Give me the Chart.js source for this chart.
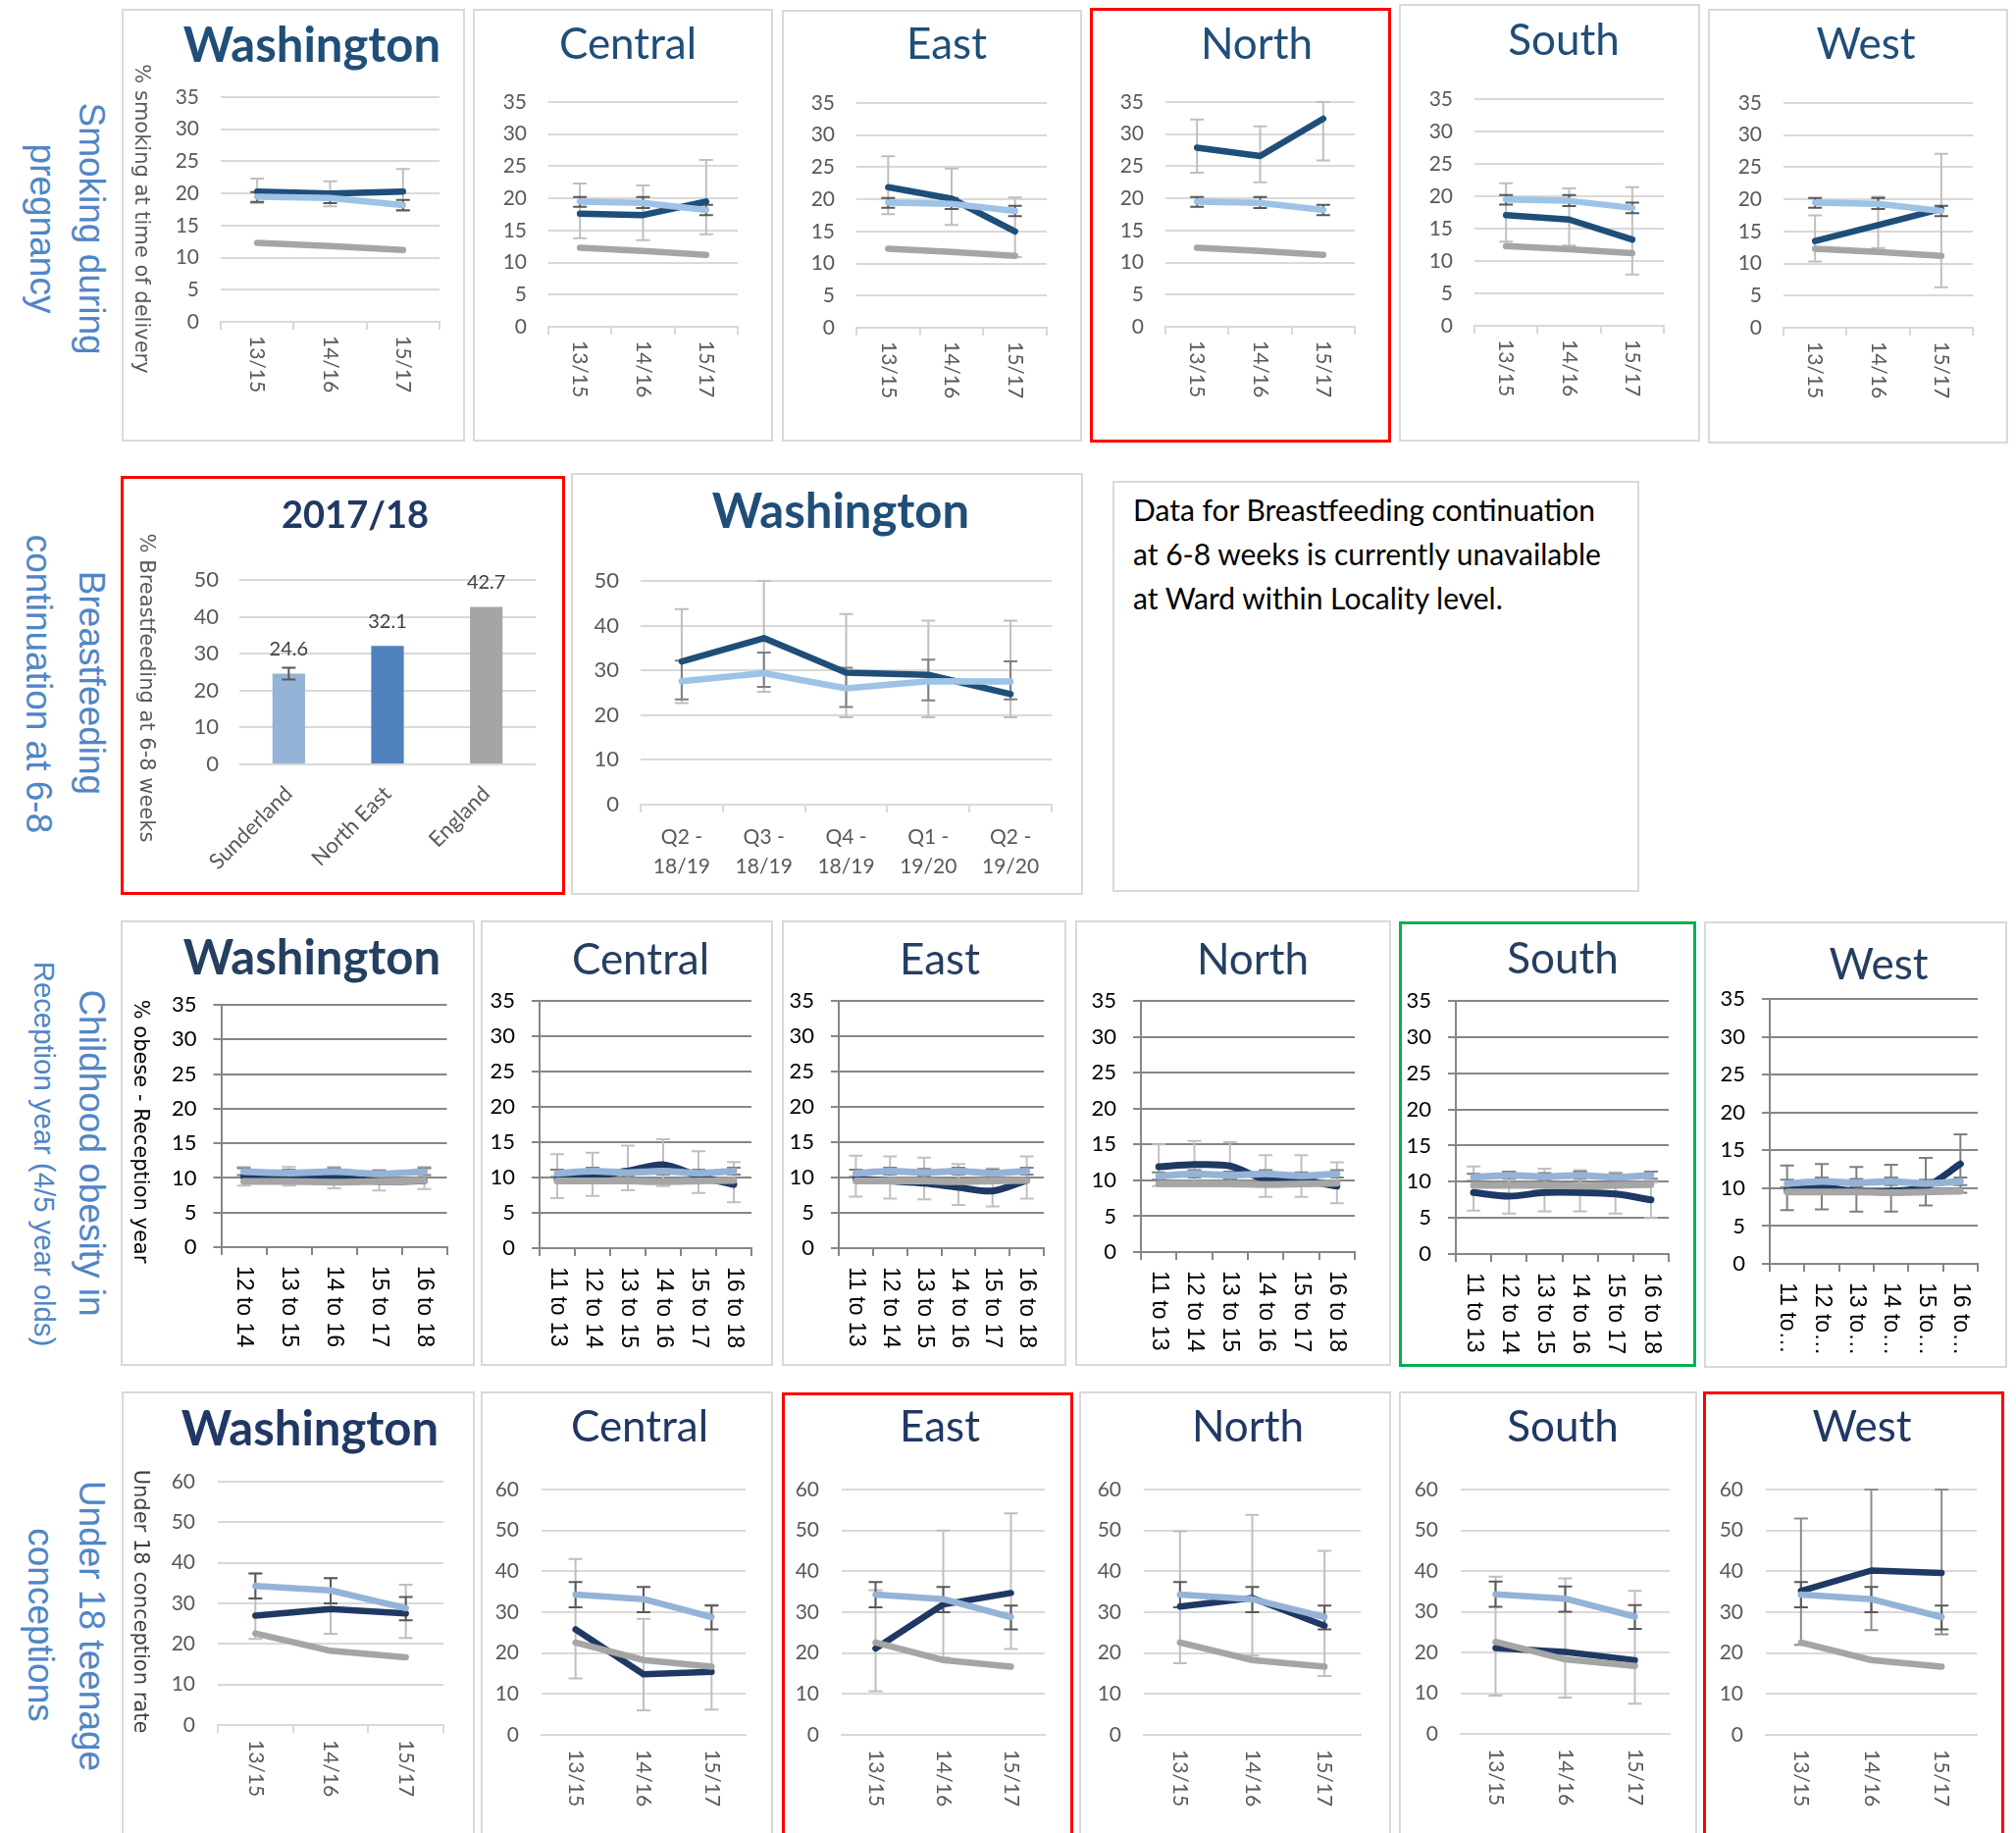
<!DOCTYPE html>
<html>
<head>
<meta charset="utf-8">
<title>Washington locality indicators</title>
<script src="https://cdn.jsdelivr.net/npm/chart.js@4.4.1/dist/chart.umd.min.js"></script>
<style>
  html, body { margin: 0; padding: 0; background: #fff; }
  body { position: relative; width: 2055px; height: 1868px; overflow: hidden; font-family: Lato, sans-serif; }
  .box { position: absolute; box-sizing: border-box; border: 2px solid #d9d9d9; }
  .box.red { border: 3px solid #ff0000; }
  .box.green { border: 3px solid #00b050; }
  canvas.chart { position: absolute; }
  .rowlab { position: absolute; white-space: nowrap; color: #4f86c6; font-family: "Liberation Sans", Arial, sans-serif;
            font-size: 37px; line-height: 1; transform: translate(-50%, -50%) rotate(90deg); }
  .rowlab.small { font-size: 29.3px; }
  .note { position: absolute; left: 1155px; top: 497px; font-size: 30px; line-height: 45px; color: #000; white-space: nowrap; }
</style>
</head>
<body>
<div class="rowlab" style="left:93px;top:233px">Smoking during</div>
<div class="rowlab" style="left:43px;top:233px">pregnancy</div>
<div class="rowlab" style="left:93px;top:696px">Breastfeeding</div>
<div class="rowlab" style="left:39px;top:697px">continuation at 6-8</div>
<div class="rowlab" style="left:93px;top:1175px">Childhood obesity in</div>
<div class="rowlab small" style="left:45px;top:1176px">Reception year (4/5 year olds)</div>
<div class="rowlab" style="left:93px;top:1657px">Under 18 teenage</div>
<div class="rowlab" style="left:41px;top:1656px">conceptions</div>

<div class="box" style="left:1134px;top:490px;width:537px;height:419px"></div>
<div class="note">Data for Breastfeeding continuation<br>at 6-8 weeks is currently unavailable<br>at Ward within Locality level.</div>

<script>
// smoking at time of delivery (%)
const smokePeriods = ['13/15', '14/16', '15/17'];
const smokeEngland = [12.3, 11.8, 11.2];
const smokeSunderland = [19.5, 19.3, 18.2];
const smokeSunderlandLo = [18.7, 18.5, 17.4];
const smokeSunderlandHi = [20.2, 20.2, 19.0];
const smokeWashington = [20.3, 20.0, 20.3];
const smokeWashingtonLo = [18.5, 18.0, 17.3];
const smokeWashingtonHi = [22.3, 21.9, 23.8];
const smokeCentral = [17.6, 17.4, 19.5];
const smokeCentralLo = [13.8, 13.5, 14.4];
const smokeCentralHi = [22.3, 22.0, 26.0];
const smokeEast = [21.9, 20.1, 15.0];
const smokeEastLo = [17.7, 16.0, 11.0];
const smokeEastHi = [26.7, 24.8, 20.3];
const smokeNorth = [27.9, 26.6, 32.4];
const smokeNorthLo = [24.0, 22.5, 25.9];
const smokeNorthHi = [32.3, 31.2, 35.0];
const smokeSouth = [17.1, 16.4, 13.3];
const smokeSouthLo = [13.0, 12.4, 7.9];
const smokeSouthHi = [22.0, 21.2, 21.4];
const smokeWest = [13.5, 16.0, 18.5];
const smokeWestLo = [10.3, 12.4, 6.3];
const smokeWestHi = [17.5, 20.4, 27.1];

// breastfeeding at 6-8 weeks (%)
const bfAreas = ['Sunderland', 'North East', 'England'];
const bfRates = [24.6, 32.1, 42.7];
const bfRatesLo = [23.0, null, null];
const bfRatesHi = [26.2, null, null];
const bfQuarters = ['Q2 - 18/19', 'Q3 - 18/19', 'Q4 - 18/19', 'Q1 - 19/20', 'Q2 - 19/20'];
const bfWashington = [32.0, 37.2, 29.5, 29.0, 24.7];
const bfWashingtonLo = [22.7, 25.2, 19.5, 19.5, 19.5];
const bfWashingtonHi = [43.7, 50.0, 42.6, 41.1, 41.1];
const bfSunderland = [27.6, 29.4, 26.0, 27.6, 27.5];
const bfSunderlandLo = [23.5, 26.3, 21.8, 23.3, 23.5];
const bfSunderlandHi = [32.2, 34.0, 30.6, 32.4, 32.0];

// obese in reception year (%)
const obPeriods = ['11 to 13', '12 to 14', '13 to 15', '14 to 16', '15 to 17', '16 to 18'];
const obEngland = [9.5, 9.5, 9.5, 9.4, 9.5, 9.6];
const obSunderland = [10.6, 10.9, 10.7, 10.9, 10.6, 10.9];
const obSunderlandLo = [10.1, 10.4, 10.2, 10.4, 10.1, 10.4];
const obSunderlandHi = [11.1, 11.4, 11.2, 11.4, 11.1, 11.4];
const obWashington = [10.2, 10.0, 10.1, 9.5, 9.6];
const obWashingtonLo = [8.9, 8.9, 8.5, 8.2, 8.4];
const obWashingtonHi = [11.6, 11.6, 11.6, 11.1, 11.6];
const obCentral = [9.7, 10.2, 10.9, 11.8, 10.2, 9.0];
const obCentralLo = [7.1, 7.4, 8.2, 8.8, 7.8, 6.5];
const obCentralHi = [13.3, 13.5, 14.5, 15.4, 13.7, 12.2];
const obEast = [9.8, 9.5, 9.2, 8.6, 8.1, 9.6];
const obEastLo = [7.3, 7.0, 6.9, 6.1, 5.9, 7.0];
const obEastHi = [13.1, 13.0, 12.8, 11.9, 11.3, 13.0];
const obNorth = [11.9, 12.2, 12.0, 10.1, 10.0, 9.2];
const obNorthLo = [9.2, 9.5, 9.3, 7.7, 7.7, 6.8];
const obNorthHi = [15.0, 15.5, 15.3, 13.5, 13.5, 12.5];
const obSouth = [8.5, 8.0, 8.5, 8.5, 8.3, 7.5];
const obSouthLo = [6.0, 5.6, 5.9, 5.9, 5.6, 5.0];
const obSouthHi = [12.1, 11.4, 11.8, 11.6, 11.3, 9.9];
const obWest = [9.7, 10.1, 9.6, 9.6, 10.2, 13.2];
const obWestLo = [7.1, 7.2, 6.9, 6.9, 7.7, 9.4];
const obWestHi = [13.0, 13.2, 12.8, 13.1, 14.0, 17.1];

// under 18 conceptions (rate per 1,000)
const teenPeriods = ['13/15', '14/16', '15/17'];
const teenEngland = [22.6, 18.3, 16.7];
const teenSunderland = [34.3, 33.2, 28.8];
const teenSunderlandLo = [31.2, 30.0, 25.8];
const teenSunderlandHi = [37.4, 36.2, 31.6];
const teenWashington = [27.0, 28.6, 27.5];
const teenWashingtonLo = [21.2, 22.5, 21.5];
const teenWashingtonHi = [37.4, 36.2, 34.6];
const teenCentral = [25.8, 14.8, 15.4];
const teenCentralLo = [13.8, 6.0, 6.2];
const teenCentralHi = [43.0, 28.4, 31.8];
const teenEast = [21.1, 31.9, 34.7];
const teenEastLo = [10.7, 18.9, 21.0];
const teenEastHi = [35.4, 50.0, 54.2];
const teenNorth = [31.4, 33.5, 26.7];
const teenNorthLo = [17.5, 19.4, 14.4];
const teenNorthHi = [49.8, 53.8, 45.0];
const teenSouth = [21.1, 20.1, 18.1];
const teenSouthLo = [9.4, 8.9, 7.4];
const teenSouthHi = [38.6, 38.2, 35.1];
const teenWest = [35.2, 40.2, 39.6];
const teenWestLo = [22.0, 25.6, 24.6];
const teenWestHi = [52.9, 60, 60];

Chart.defaults.font.family = 'Lato';
Chart.defaults.color = '#595959';

// ---- small drawing plugins ----
function drawErrorBars(chart, o) {
  const ctx = chart.ctx, xs = chart.scales.x, ys = chart.scales.y, a = chart.chartArea;
  ctx.save();
  ctx.beginPath();
  ctx.rect(a.left - 10, a.top - 2, a.right - a.left + 20, a.bottom - a.top + 4);
  ctx.clip();
  for (const bar of o.bars) {
    ctx.strokeStyle = bar.color;
    ctx.lineWidth = 2;
    for (let i = 0; i < bar.lo.length; i++) {
      if (bar.lo[i] == null) continue;
      const x = xs.getPixelForValue(i);
      const y1 = ys.getPixelForValue(bar.lo[i]);
      const y2 = ys.getPixelForValue(bar.hi[i]);
      ctx.beginPath();
      ctx.moveTo(x, y1); ctx.lineTo(x, y2);
      ctx.moveTo(x - 7, y1); ctx.lineTo(x + 7, y1);
      ctx.moveTo(x - 7, y2); ctx.lineTo(x + 7, y2);
      ctx.stroke();
    }
  }
  ctx.restore();
}

const errorBars = {
  id: 'errorBars',
  beforeDatasetsDraw(chart, args, o) { if (o.bars && !o.onTop) drawErrorBars(chart, o); },
  afterDatasetsDraw(chart, args, o) { if (o.bars && o.onTop) drawErrorBars(chart, o); }
};

// x labels turned clockwise, read from top to bottom
const downLabels = {
  id: 'downLabels',
  afterDraw(chart, args, o) {
    if (!o.font) return;
    const ctx = chart.ctx, xs = chart.scales.x;
    ctx.save();
    ctx.font = o.font;
    ctx.fillStyle = o.color;
    ctx.textAlign = 'left';
    ctx.textBaseline = 'middle';
    chart.data.labels.forEach((lab, i) => {
      const text = o.maxLen && lab.length > o.maxLen ? lab.slice(0, o.maxLen) + '\u2026' : lab;
      ctx.save();
      ctx.translate(xs.getPixelForValue(i), chart.chartArea.bottom + o.gap);
      ctx.rotate(Math.PI / 2);
      ctx.fillText(text, 0, 0);
      ctx.restore();
    });
    ctx.restore();
  }
};

const panelTitle = {
  id: 'panelTitle',
  afterDraw(chart, args, o) {
    if (!o.text) return;
    const ctx = chart.ctx;
    ctx.save();
    ctx.font = o.font;
    ctx.fillStyle = o.color;
    ctx.textAlign = 'center';
    ctx.textBaseline = 'alphabetic';
    ctx.fillText(o.text, o.x, o.y);
    ctx.restore();
  }
};

// y axis title, turned clockwise
const sideTitle = {
  id: 'sideTitle',
  afterDraw(chart, args, o) {
    if (!o.text) return;
    const ctx = chart.ctx;
    ctx.save();
    ctx.font = o.font;
    ctx.fillStyle = o.color;
    ctx.textAlign = 'center';
    ctx.textBaseline = 'alphabetic';
    ctx.translate(o.x, o.y);
    ctx.rotate(Math.PI / 2);
    ctx.fillText(o.text, 0, 0);
    ctx.restore();
  }
};

const barValues = {
  id: 'barValues',
  afterDatasetsDraw(chart, args, o) {
    if (!o.font) return;
    const ctx = chart.ctx, ys = chart.scales.y;
    const meta = chart.getDatasetMeta(0);
    ctx.save();
    ctx.font = o.font;
    ctx.fillStyle = o.color;
    ctx.textAlign = 'center';
    ctx.textBaseline = 'middle';
    chart.data.datasets[0].data.forEach((v, i) => {
      ctx.fillText(v.toFixed(1), meta.data[i].x, ys.getPixelForValue(v) - o.lift);
    });
    ctx.restore();
  }
};

Chart.register(errorBars, downLabels, panelTitle, sideTitle, barValues);

// ---- layout helpers ----
function addFrame(b, cls) {
  const d = document.createElement('div');
  d.className = 'box' + (cls ? ' ' + cls : '');
  d.style.left = b[0] + 'px';
  d.style.top = b[1] + 'px';
  d.style.width = (b[2] - b[0]) + 'px';
  d.style.height = (b[3] - b[1]) + 'px';
  document.body.appendChild(d);
}

function addCanvas(b) {
  const c = document.createElement('canvas');
  c.className = 'chart';
  c.width = b[2] - b[0];
  c.height = b[3] - b[1];
  c.style.left = b[0] + 'px';
  c.style.top = b[1] + 'px';
  document.body.appendChild(c);
  return c;
}

const looks = {
  smoke: { navy: '#1f4e79', light: '#9dc3e6', grey: '#a5a5a5', wardBar: '#bfbfbf', sundBar: '#595959',
           grid: '#d9d9d9', tick: '#595959', tickSize: 21, tickPad: 22, yLine: false,
           label: '21px Lato', labelColor: '#595959', labelGap: 14, lineW: 6.5, tension: 0, titleColor: '#1f4e79' },
  obese: { navy: '#1f3864', light: '#95b3d7', grey: '#a6a6a6', wardBar: '#c0c0c0', sundBar: '#7f7f7f',
           grid: '#868686', tick: '#000000', tickSize: 22, tickPad: 17, yLine: true,
           label: '23px "Liberation Sans"', labelColor: '#000000', labelGap: 19, lineW: 7, tension: 0.3, titleColor: '#243f60' },
  teen:  { navy: '#203864', light: '#95b3d7', grey: '#a5a5a5', wardBar: '#bfbfbf', sundBar: '#595959',
           grid: '#d9d9d9', tick: '#595959', tickSize: 21, tickPad: 23, yLine: false,
           label: '21px Lato', labelColor: '#595959', labelGap: 15, lineW: 6.5, tension: 0, titleColor: '#203864' }
};

function lineSet(data, color, width, order, tension) {
  return { data, borderColor: color, borderWidth: width, pointRadius: 0, pointHoverRadius: 0, tension, order,
           borderCapStyle: 'round', borderJoinStyle: 'round', fill: false };
}

function linePanel(p) {
  const b = p.box, s = p.look;
  addFrame(b, p.frame);
  const cv = addCanvas(b);
  const W = b[2] - b[0], H = b[3] - b[1];
  const L = p.plot[0] - b[0], T = p.plot[1] - b[1], R = p.plot[2] - b[0], B = p.plot[3] - b[1];

  const sets = [];
  if (p.england) sets.push(lineSet(p.england, s.grey, s.lineW, 1, s.tension));
  sets.push(lineSet(p.sund, s.light, s.lineW, 2, s.tension));
  sets.push(lineSet(p.ward, s.navy, s.lineW, 3, s.tension));

  const xTicks = p.split ? {
    display: true, autoSkip: false, minRotation: 0, maxRotation: 0, color: '#595959', padding: 11,
    font: { family: 'Lato', size: 21, lineHeight: 1.4 },
    callback(v) {
      const t = this.getLabelForValue(v);
      const k = t.lastIndexOf(' ');
      return [t.slice(0, k), t.slice(k + 1)];
    }
  } : { display: false };

  new Chart(cv, {
    type: 'line',
    data: { labels: p.cats, datasets: sets },
    options: {
      responsive: false, animation: false, devicePixelRatio: 1,
      layout: { padding: { left: 0, top: T, right: W - R, bottom: 0 } },
      plugins: {
        legend: { display: false },
        tooltip: { enabled: false },
        panelTitle: { text: p.title, x: p.titleAt[0] - b[0], y: p.titleAt[1] - b[1],
                      font: (p.bold ? 'bold 49px' : '44px') + ' Lato', color: p.titleColor || s.titleColor },
        sideTitle: p.axisTitle ? { text: p.axisTitle, x: p.axisAt[0] - b[0], y: p.axisAt[1] - b[1],
                      font: '21px "DejaVu Sans"', color: p.axisColor } : {},
        downLabels: p.split ? {} : { font: s.label, color: s.labelColor, gap: s.labelGap, maxLen: p.maxLen || 0 },
        errorBars: { bars: [
          { lo: p.wardLo, hi: p.wardHi, color: p.wardBar || s.wardBar },
          { lo: p.sundLo, hi: p.sundHi, color: p.sundBar || s.sundBar }
        ] }
      },
      scales: {
        x: {
          offset: true,
          ticks: xTicks,
          grid: { display: !!p.xMarks, drawOnChartArea: false, drawTicks: true, tickLength: 8,
                  color: s.grid, lineWidth: 2, offset: true },
          border: { display: true, color: s.grid, width: 2 },
          afterFit(sc) { sc.height = H - B; }
        },
        y: {
          min: 0, max: p.yMax,
          ticks: { stepSize: p.yStep, color: s.tick, font: { family: 'Lato', size: p.tickSize || s.tickSize }, padding: s.tickPad },
          grid: { color: s.grid, lineWidth: 2, drawTicks: s.yLine, tickLength: 8 },
          border: { display: s.yLine, color: s.grid, width: 2 },
          afterFit(sc) { sc.width = L; }
        }
      }
    }
  });
}

// ---- row 1: smoking during pregnancy ----
const smokeBase = { look: looks.smoke, cats: smokePeriods, yMax: 35, yStep: 5, xMarks: true, england: smokeEngland,
                    sund: smokeSunderland, sundLo: smokeSunderlandLo, sundHi: smokeSunderlandHi };
linePanel({ ...smokeBase, box: [124, 9, 474, 450], plot: [225, 99, 448, 328], title: 'Washington', bold: true, titleAt: [318, 63],
            axisTitle: '% smoking at time of delivery', axisAt: [137.7, 223], axisColor: '#595959',
            ward: smokeWashington, wardLo: smokeWashingtonLo, wardHi: smokeWashingtonHi });
linePanel({ ...smokeBase, box: [482, 9, 788, 450], plot: [559, 104, 752, 333], title: 'Central', titleAt: [640, 60],
            ward: smokeCentral, wardLo: smokeCentralLo, wardHi: smokeCentralHi });
linePanel({ ...smokeBase, box: [797, 10, 1103, 450], plot: [873, 105, 1067, 334], title: 'East', titleAt: [965, 60],
            ward: smokeEast, wardLo: smokeEastLo, wardHi: smokeEastHi });
linePanel({ ...smokeBase, box: [1111, 8, 1418, 451], frame: 'red', plot: [1188, 104, 1381, 333], title: 'North', titleAt: [1281, 60],
            ward: smokeNorth, wardLo: smokeNorthLo, wardHi: smokeNorthHi });
linePanel({ ...smokeBase, box: [1426, 4, 1733, 450], plot: [1503, 101, 1696, 332], title: 'South', titleAt: [1594, 56],
            ward: smokeSouth, wardLo: smokeSouthLo, wardHi: smokeSouthHi });
linePanel({ ...smokeBase, box: [1741, 9, 2047, 452], plot: [1818, 105, 2011, 334], title: 'West', titleAt: [1902, 60],
            ward: smokeWest, wardLo: smokeWestLo, wardHi: smokeWestHi });

// ---- row 2: breastfeeding ----
(function () {
  const b = [123, 485, 576, 912];
  addFrame(b, 'red');
  const cv = addCanvas(b);
  const W = b[2] - b[0], H = b[3] - b[1];
  const L = 244 - b[0], T = 591 - b[1], R = 546 - b[0], B = 779 - b[1];
  new Chart(cv, {
    type: 'bar',
    data: { labels: bfAreas, datasets: [{ data: bfRates, backgroundColor: ['#95b3d7', '#4f81bd', '#a5a5a5'],
                                          barPercentage: 0.33, categoryPercentage: 1 }] },
    options: {
      responsive: false, animation: false, devicePixelRatio: 1,
      layout: { padding: { left: 0, top: T, right: W - R, bottom: 0 } },
      plugins: {
        legend: { display: false },
        tooltip: { enabled: false },
        panelTitle: { text: '2017/18', x: 362 - b[0], y: 538 - b[1], font: 'bold 38px Lato', color: '#203864' },
        sideTitle: { text: '% Breastfeeding at 6-8 weeks', x: 143.3 - b[0], y: 701 - b[1], font: '21px "DejaVu Sans"', color: '#595959' },
        barValues: { font: '20px Lato', color: '#404040', lift: 25 },
        errorBars: { onTop: true, bars: [{ lo: bfRatesLo, hi: bfRatesHi, color: '#595959' }] }
      },
      scales: {
        x: {
          grid: { display: false }, border: { display: false },
          ticks: { minRotation: 45, maxRotation: 45, color: '#595959', font: { family: 'Lato', size: 22 }, padding: 9 },
          afterFit(sc) { sc.height = H - B; }
        },
        y: {
          min: 0, max: 50,
          ticks: { stepSize: 10, color: '#595959', font: { family: 'Lato', size: 22 }, padding: 21 },
          grid: { color: '#d9d9d9', lineWidth: 2, drawTicks: false },
          border: { display: false },
          afterFit(sc) { sc.width = L; }
        }
      }
    }
  });
})();

linePanel({ look: looks.smoke, cats: bfQuarters, yMax: 50, yStep: 10, xMarks: true, split: true, tickSize: 22,
            box: [582, 482, 1104, 912], plot: [653, 592, 1072, 820], title: 'Washington', bold: true, titleAt: [857, 538],
            ward: bfWashington, wardLo: bfWashingtonLo, wardHi: bfWashingtonHi, wardBar: '#bfbfbf',
            sund: bfSunderland, sundLo: bfSunderlandLo, sundHi: bfSunderlandHi, sundBar: '#808080' });

// ---- row 3: childhood obesity ----
const obeseBase = { look: looks.obese, cats: obPeriods, yMax: 35, yStep: 5, xMarks: true, england: obEngland,
                    sund: obSunderland, sundLo: obSunderlandLo, sundHi: obSunderlandHi };
linePanel({ ...obeseBase, cats: obPeriods.slice(1), england: obEngland.slice(1), sund: obSunderland.slice(1),
            sundLo: obSunderlandLo.slice(1), sundHi: obSunderlandHi.slice(1),
            box: [123, 938, 484, 1392], plot: [225.5, 1024, 455.5, 1271], title: 'Washington', bold: true, titleAt: [318, 993],
            axisTitle: '% obese - Reception year', axisAt: [136.7, 1153], axisColor: '#000000',
            ward: obWashington, wardLo: obWashingtonLo, wardHi: obWashingtonHi });
linePanel({ ...obeseBase, box: [490, 938, 788, 1392], plot: [550, 1020, 766, 1272], title: 'Central', titleAt: [653, 993],
            ward: obCentral, wardLo: obCentralLo, wardHi: obCentralHi });
linePanel({ ...obeseBase, box: [797, 938, 1087, 1392], plot: [855, 1020, 1064, 1272], title: 'East', titleAt: [958, 993],
            ward: obEast, wardLo: obEastLo, wardHi: obEastHi });
linePanel({ ...obeseBase, box: [1096, 938, 1418, 1392], plot: [1163, 1020, 1381, 1276], title: 'North', titleAt: [1277, 993],
            ward: obNorth, wardLo: obNorthLo, wardHi: obNorthHi });
linePanel({ ...obeseBase, box: [1426, 939, 1729, 1393], frame: 'green', plot: [1484, 1020, 1701, 1278], title: 'South', titleAt: [1593, 992],
            ward: obSouth, wardLo: obSouthLo, wardHi: obSouthHi });
linePanel({ ...obeseBase, box: [1737, 939, 2046, 1394], plot: [1804, 1018, 2016, 1288], title: 'West', titleAt: [1915, 998], maxLen: 5,
            ward: obWest, wardLo: obWestLo, wardHi: obWestHi, wardBar: '#7f7f7f' });

// ---- row 4: under 18 conceptions ----
const teenBase = { look: looks.teen, cats: teenPeriods, yMax: 60, yStep: 10, england: teenEngland,
                   sund: teenSunderland, sundLo: teenSunderlandLo, sundHi: teenSunderlandHi };
linePanel({ ...teenBase, xMarks: true, box: [124, 1418, 484, 1880], plot: [222, 1510, 452, 1758], title: 'Washington', bold: true,
            titleAt: [316, 1473], axisTitle: 'Under 18 conception rate', axisAt: [136.7, 1632], axisColor: '#404040',
            ward: teenWashington, wardLo: teenWashingtonLo, wardHi: teenWashingtonHi });
linePanel({ ...teenBase, box: [490, 1418, 788, 1880], plot: [552, 1518, 760, 1768], title: 'Central', titleAt: [652, 1469],
            ward: teenCentral, wardLo: teenCentralLo, wardHi: teenCentralHi });
linePanel({ ...teenBase, box: [797, 1419, 1094, 1880], frame: 'red', plot: [858, 1518, 1065, 1768], title: 'East', titleAt: [958, 1469],
            ward: teenEast, wardLo: teenEastLo, wardHi: teenEastHi });
linePanel({ ...teenBase, box: [1100, 1418, 1418, 1880], plot: [1166, 1518, 1387, 1768], title: 'North', titleAt: [1272, 1469],
            ward: teenNorth, wardLo: teenNorthLo, wardHi: teenNorthHi });
linePanel({ ...teenBase, box: [1426, 1418, 1730, 1880], plot: [1489, 1518, 1702, 1767], title: 'South', titleAt: [1593, 1469],
            ward: teenSouth, wardLo: teenSouthLo, wardHi: teenSouthHi });
linePanel({ ...teenBase, box: [1736, 1418, 2043, 1880], frame: 'red', plot: [1800, 1518, 2015, 1768], title: 'West', titleAt: [1898, 1469],
            ward: teenWest, wardLo: teenWestLo, wardHi: teenWestHi, wardBar: '#8c8c8c' });
</script>
</body>
</html>
